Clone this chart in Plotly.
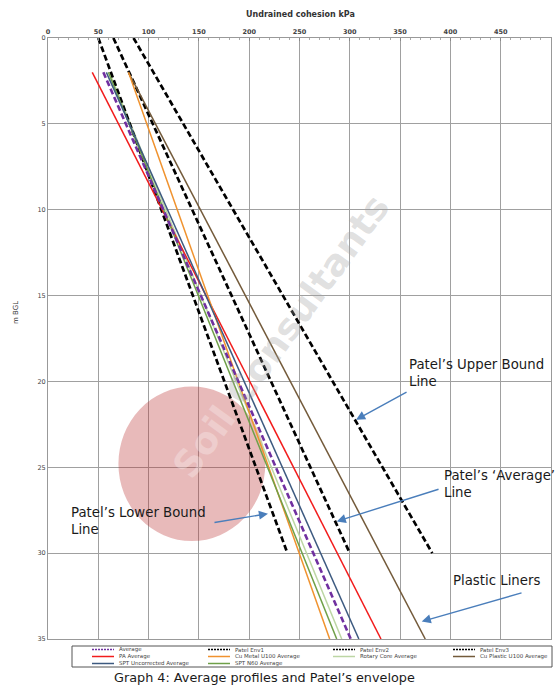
import plotly.graph_objects as go

# Depth ranges (m BGL)
depth_patel = [0, 30]
depth_profiles = [2, 35]

# Patel's envelope (undrained cohesion, kPa)
patel_env1 = [50, 238]
patel_env2 = [65, 300]
patel_env3 = [85, 382]

# Average profiles (undrained cohesion, kPa)
average = [55, 301]
pa_average = [44, 331]
cu_metal_u100 = [80, 280]
rotary_core = [61, 292]
cu_plastic_u100 = [80, 375]
spt_uncorrected = [58, 309]
spt_n60 = [60, 287]

x_ticks = [0, 50, 100, 150, 200, 250, 300, 350, 400, 450, 500]
y_ticks = [0, 5, 10, 15, 20, 25, 30, 35]

DASH = "6px,3px"
series = [
    ("Average", depth_profiles, average, "#7030a0", 2.6, DASH),
    ("Patel Env1", depth_patel, patel_env1, "#000000", 2.7, DASH),
    ("Patel Env2", depth_patel, patel_env2, "#000000", 2.7, DASH),
    ("Patel Env3", depth_patel, patel_env3, "#000000", 2.7, DASH),
    ("PA Average", depth_profiles, pa_average, "#f21c1c", 1.5, "solid"),
    ("Cu Metal U100 Average", depth_profiles, cu_metal_u100, "#f0922e", 1.5, "solid"),
    ("Rotary Core Average", depth_profiles, rotary_core, "#bcd6a4", 1.5, "solid"),
    ("Cu Plastic U100 Average", depth_profiles, cu_plastic_u100, "#735a3a", 1.5, "solid"),
    ("SPT Uncorrected Average", depth_profiles, spt_uncorrected, "#3d5a80", 1.5, "solid"),
    ("SPT N60 Average", depth_profiles, spt_n60, "#6fa048", 1.5, "solid"),
]

# drawing order: pale first, black envelope, then the coloured profiles
draw_order = [6, 1, 2, 3, 7, 4, 5, 9, 8, 0]

fig = go.Figure()
for i in draw_order:
    name, d, cu, col, w, dash = series[i]
    fig.add_trace(go.Scatter(
        x=cu, y=d, mode="lines", name=name, showlegend=False,
        line=dict(color=col, width=w, dash=dash),
    ))

W, H = 555, 690
ML, MR, MT, MB = 48, 4, 38, 51
PW, PH = W - ML - MR, H - MT - MB


def px(xp):
    return (xp - ML) / PW


def py(yp):
    return (H - MB - yp) / PH


shapes = []
annotations = []

# watermark disc
shapes.append(dict(type="circle", xref="x", yref="y", x0=70, x1=216, y0=20.3, y1=29.3,
                   fillcolor="rgba(185,45,45,0.33)", line=dict(width=0), layer="between"))
annotations.append(dict(
    x=232, y=17.4, xref="x", yref="y", showarrow=False, textangle=-54,
    text="<span style='color:rgba(255,255,255,0.85)'>Soil</span> Consultants",
    font=dict(family="DejaVu Sans", size=37, color="rgba(160,160,160,0.33)", weight="bold"),
))

# callouts
arrow_col = "#4a7ebb"
callouts = [
    ("Patel’s Upper Bound<br>Line", 407, 373, (306.2, 22.23), (357.9, 20.58)),
    ("Patel’s ‘Average’<br>Line", 442, 484, (287.0, 28.15), (389.7, 26.25)),
    ("Patel’s Lower Bound<br>Line", 69, 521, (218.7, 27.7), (164.0, 28.23)),
    ("Plastic Liners", 451, 580, (371.5, 33.98), (472.2, 32.29)),
]
for text, tx, ty, tip, tail in callouts:
    annotations.append(dict(
        x=px(tx), y=py(ty), xref="paper", yref="paper", xanchor="left", yanchor="middle",
        text=text, showarrow=False, align="left",
        font=dict(family="DejaVu Sans", size=13.3, color="#1a1a1a"),
    ))
    annotations.append(dict(
        x=tip[0], y=tip[1], ax=tail[0], ay=tail[1], xref="x", yref="y",
        axref="x", ayref="y", text="", showarrow=True, arrowhead=2,
        arrowsize=1.3, arrowwidth=1.4, arrowcolor=arrow_col,
    ))

# axis titles and caption
annotations.append(dict(x=px(300), y=py(14), xref="paper", yref="paper", showarrow=False,
                        xanchor="center", yanchor="middle",
                        text="Undrained cohesion kPa",
                        font=dict(family="DejaVu Sans", size=8, color="#333", weight="bold")))
annotations.append(dict(x=px(16), y=py(313), xref="paper", yref="paper", showarrow=False,
                        xanchor="center", yanchor="middle",
                        text="m BGL", textangle=-90,
                        font=dict(family="DejaVu Sans", size=7, color="#333")))
annotations.append(dict(x=px(264), y=py(677), xref="paper", yref="paper", showarrow=False,
                        xanchor="center", yanchor="middle",
                        text="Graph 4: Average profiles and Patel’s envelope",
                        font=dict(family="DejaVu Sans", size=12.8, color="#1a1a1a")))

# legend box drawn below the plot
shapes.append(dict(type="rect", xref="paper", yref="paper", x0=px(72), x1=px(552),
                   y0=py(667), y1=py(646), line=dict(color="#555", width=1),
                   fillcolor="white"))
col_x = [92, 208, 333, 453]
row_y = [649.5, 656.5, 663.5]
for k, (name, d, cu, col, w, dash) in enumerate(series):
    r, c = divmod(k, 4)
    x0 = col_x[c]
    yy = row_y[r]
    shapes.append(dict(type="line", xref="paper", yref="paper", x0=px(x0), x1=px(x0 + 22),
                       y0=py(yy), y1=py(yy),
                       line=dict(color=col, width=1.5,
                                 dash="2px,1px" if dash != "solid" else "solid")))
    annotations.append(dict(x=px(x0 + 25), y=py(yy), xref="paper", yref="paper",
                            xanchor="left", yanchor="middle", showarrow=False, text=name,
                            font=dict(family="DejaVu Sans", size=5.5, color="#444")))

fig.update_layout(
    width=W, height=H, margin=dict(l=ML, r=MR, t=MT, b=MB),
    paper_bgcolor="white", plot_bgcolor="white", showlegend=False,
    shapes=shapes, annotations=annotations,
    xaxis=dict(side="top", range=[0, 500], tickvals=x_ticks, showgrid=True,
               gridcolor="#a0a0a0", gridwidth=1, zeroline=False, showline=True,
               linecolor="#999", mirror=True, ticks="inside", ticklen=3, tickcolor="#888",
               minor=dict(dtick=10, ticks="inside", ticklen=2, tickcolor="#aaa"),
               tickfont=dict(family="DejaVu Sans", size=6.5, color="#444", weight="bold")),
    yaxis=dict(range=[35, 0], tickvals=y_ticks, showgrid=True, gridcolor="#a0a0a0",
               gridwidth=1, zeroline=False, showline=True, linecolor="#999", mirror=True,
               ticks="", tickfont=dict(family="DejaVu Sans", size=6.5, color="#444")),
)

fig.write_html("out.html")
